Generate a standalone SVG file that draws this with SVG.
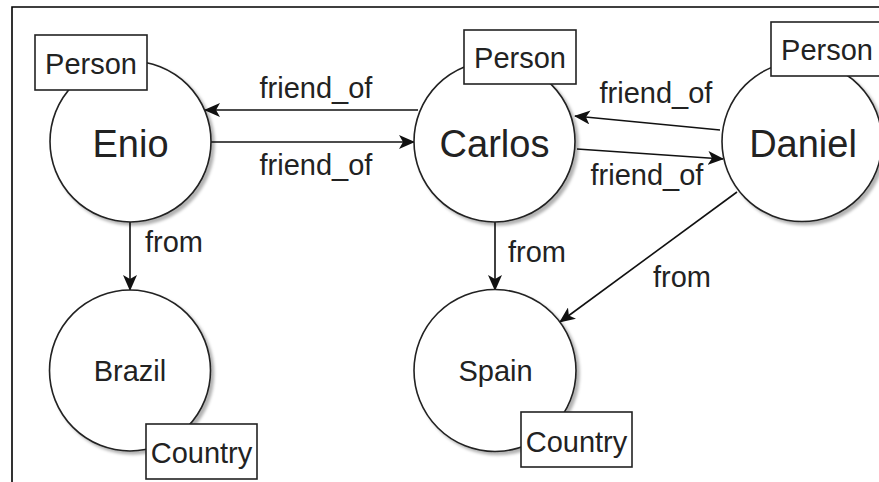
<svg xmlns="http://www.w3.org/2000/svg" width="879" height="482" viewBox="0 0 879 482">
  <style>
    .frame { fill: none; stroke: #000; stroke-width: 1.6; }
    .node { fill: #fff; stroke: #222; stroke-width: 1.6; filter: url(#shadow); }
    .tag { fill: #fff; stroke: #222; stroke-width: 1.6; }
    .big { font-family: "Liberation Sans", Arial, sans-serif; font-size: 38px; fill: #222; text-anchor: middle; }
    .small { font-family: "Liberation Sans", Arial, sans-serif; font-size: 29px; fill: #222; text-anchor: middle; }
    .lbl { font-family: "Liberation Sans", Arial, sans-serif; font-size: 29px; fill: #222; }
    .edge { fill: none; stroke: #111; stroke-width: 1.6; marker-end: url(#arrow); }
  </style>
  <defs>
    <filter id="shadow" x="-20%" y="-20%" width="150%" height="150%">
      <feDropShadow dx="3" dy="3" stdDeviation="1.5" flood-color="#000" flood-opacity="0.3"/>
    </filter>
    <marker id="arrow" viewBox="0 0 16 14" refX="15" refY="7" markerWidth="16" markerHeight="14" markerUnits="userSpaceOnUse" orient="auto">
      <path d="M0,0 L16,7 L0,14 L4,7 Z" fill="#111"/>
    </marker>
  </defs>

  <rect width="879" height="482" fill="#fff"/>
  <path class="frame" d="M12,482 L12,7 L879,7"/>

  <g id="connectors">
    <path class="edge" d="M418,110 L205,110"/>
    <path class="edge" d="M211,142 L414,142"/>
    <path class="edge" d="M720,130 L575,116"/>
    <path class="edge" d="M577,149 L723,159"/>
    <path class="edge" d="M130,222 L130,290"/>
    <path class="edge" d="M495,222 L495,290"/>
    <path class="edge" d="M737,192 L560,322"/>
    <text class="lbl" x="316" y="98" text-anchor="middle">friend_of</text>
    <text class="lbl" x="316" y="175" text-anchor="middle">friend_of</text>
    <text class="lbl" x="656" y="103" text-anchor="middle">friend_of</text>
    <text class="lbl" x="647" y="185" text-anchor="middle">friend_of</text>
    <text class="lbl" x="145" y="252">from</text>
    <text class="lbl" x="508" y="262">from</text>
    <text class="lbl" x="653" y="287">from</text>
  </g>

  <g id="enio">
    <circle class="node" cx="130.5" cy="141.5" r="80.5"/>
    <text class="big" x="130.5" y="157">Enio</text>
    <rect class="tag" x="35" y="35" width="112" height="55"/>
    <text class="small" x="91" y="74">Person</text>
  </g>

  <g id="carlos">
    <circle class="node" cx="494.5" cy="141.5" r="80.5"/>
    <text class="big" x="494.5" y="157">Carlos</text>
    <rect class="tag" x="464" y="30" width="112" height="54"/>
    <text class="small" x="520" y="68">Person</text>
  </g>

  <g id="daniel">
    <circle class="node" cx="802" cy="141.5" r="80"/>
    <text class="big" x="803" y="157">Daniel</text>
    <rect class="tag" x="771" y="22" width="112" height="54"/>
    <text class="small" x="827" y="60">Person</text>
  </g>

  <g id="brazil">
    <circle class="node" cx="130" cy="370.5" r="80.5"/>
    <text class="small" x="130" y="381">Brazil</text>
    <rect class="tag" x="146" y="424" width="111" height="55"/>
    <text class="small" x="201.5" y="463">Country</text>
  </g>

  <g id="spain">
    <circle class="node" cx="495" cy="370.5" r="81"/>
    <text class="small" x="495.5" y="381">Spain</text>
    <rect class="tag" x="521" y="412" width="111" height="55"/>
    <text class="small" x="576.5" y="452">Country</text>
  </g>
</svg>
